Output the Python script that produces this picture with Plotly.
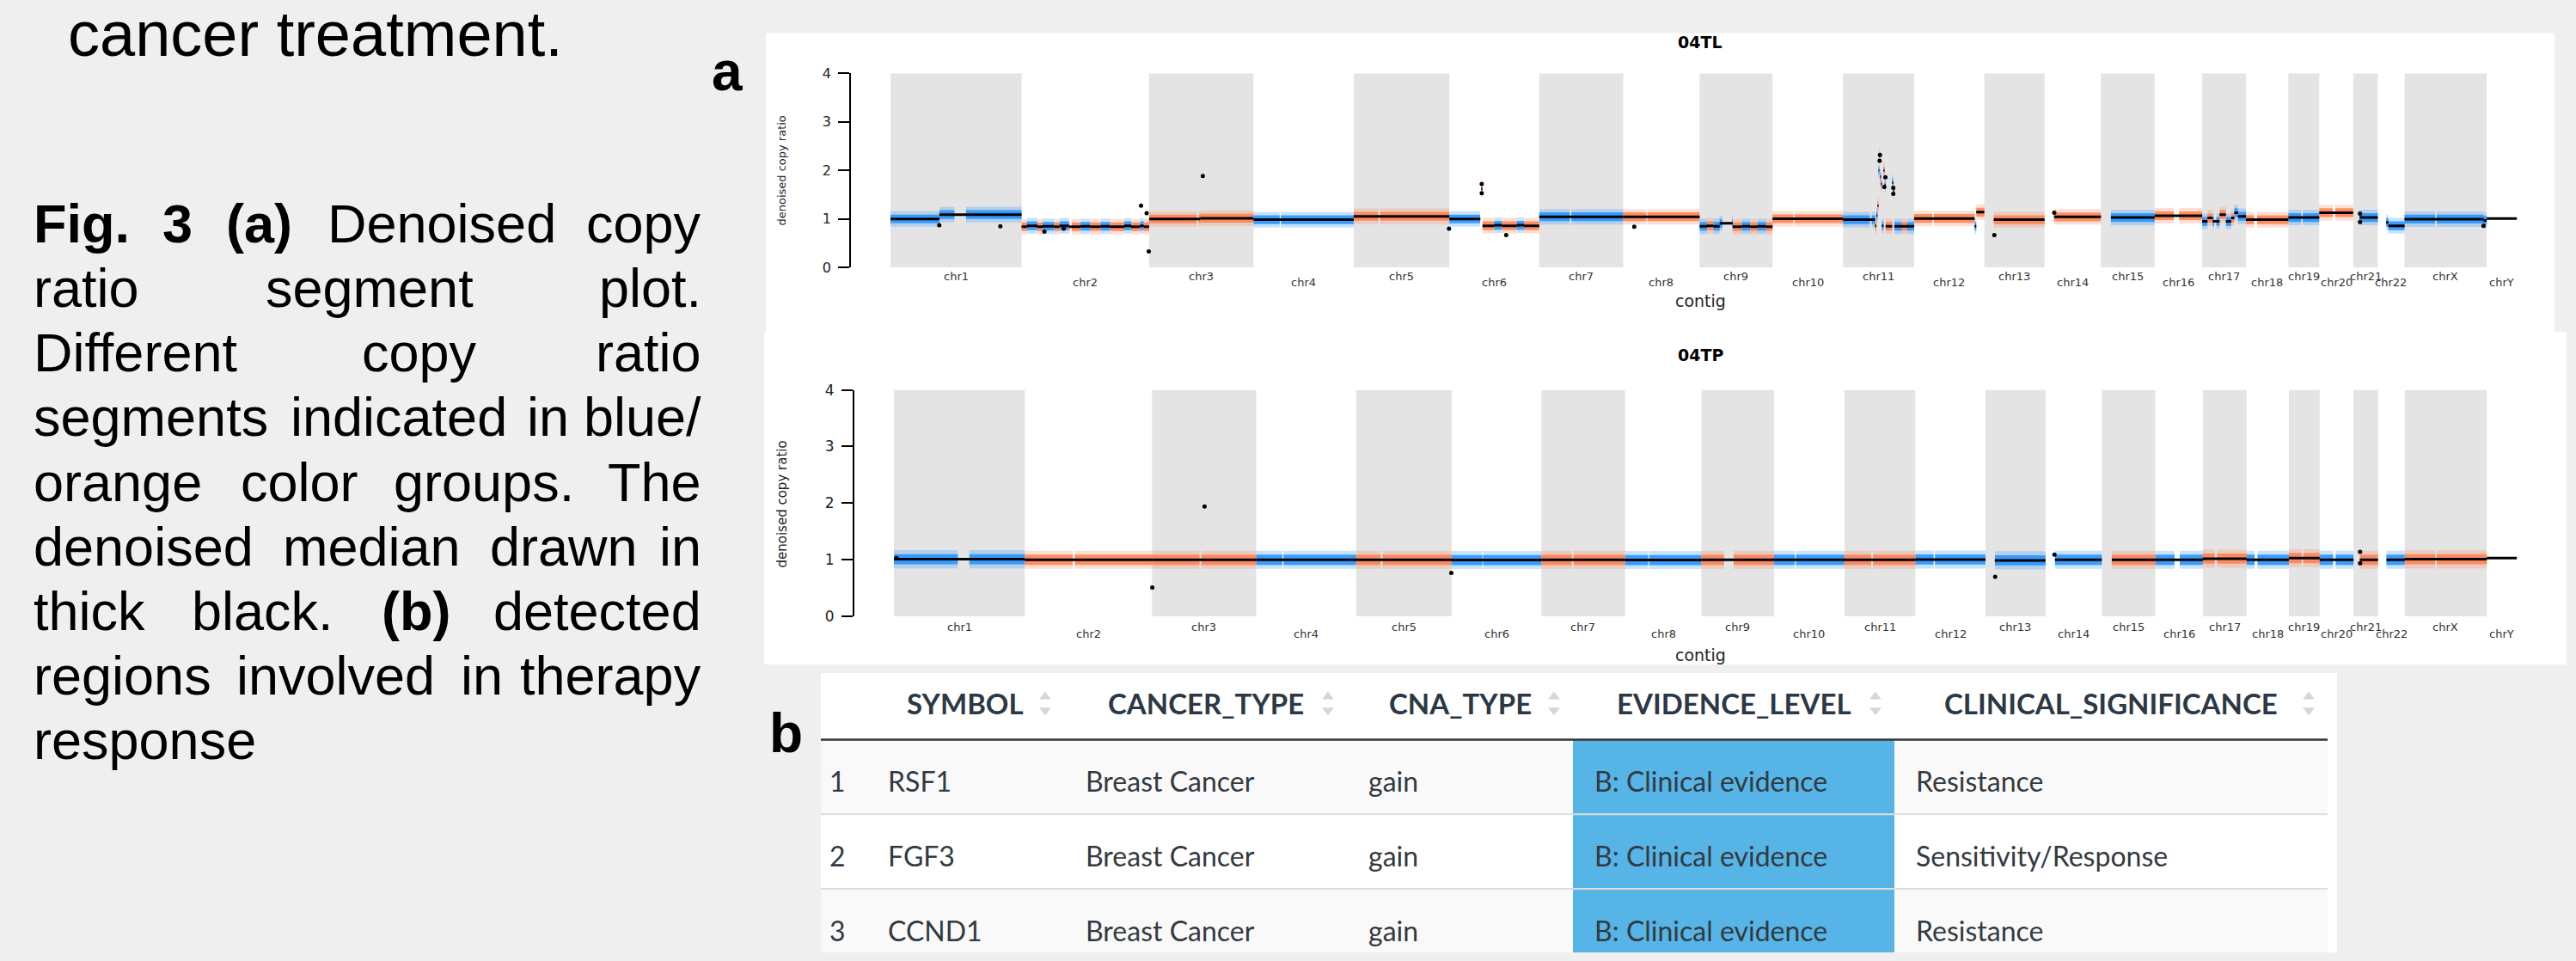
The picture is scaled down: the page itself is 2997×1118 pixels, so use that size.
import plotly.graph_objects as go

W, H = 2997, 1118

# ---------------------------------------------------------------- data
chrom_names = ["chr1", "chr2", "chr3", "chr4", "chr5", "chr6", "chr7", "chr8",
               "chr9", "chr10", "chr11", "chr12", "chr13", "chr14", "chr15",
               "chr16", "chr17", "chr18", "chr19", "chr20", "chr21", "chr22",
               "chrX", "chrY"]
chrom_len_mb = [248.96, 242.19, 198.30, 190.21, 181.54, 170.81, 159.35, 145.14,
                138.39, 133.80, 135.09, 133.28, 114.36, 107.04, 101.99, 90.34,
                83.26, 80.37, 58.62, 64.44, 46.71, 50.82, 156.04, 57.23]
shaded_chroms = ["chr1", "chr3", "chr5", "chr7", "chr9", "chr11", "chr13",
                 "chr15", "chr17", "chr19", "chr21", "chrX"]

# regions without copy-ratio data (centromeres / heterochromatin), Mb
gap_chrom = ["chr1", "chr2", "chr3", "chr4", "chr5", "chr6", "chr7", "chr8",
             "chr9", "chr10", "chr11", "chr12", "chr16", "chr17", "chr18",
             "chr19", "chr20", "chrX"]
gap_start = [121.5, 91.5, 90.5, 49.7, 46.5, 58.5, 58.1, 44.0, 43.0, 39.6,
             51.1, 34.7, 36.3, 22.7, 15.4, 24.4, 25.6, 58.1]
gap_end = [143.5, 95.0, 93.7, 51.8, 50.2, 59.9, 61.0, 45.9, 61.5, 41.6,
           54.5, 37.2, 46.4, 26.9, 20.9, 27.2, 30.4, 61.0]

# sample 04TL segments: (contig, start Mb, end Mb, denoised median, colour group)
tl_segments = [
    ("chr1", 0, 93, 1.00, "B"), ("chr1", 93, 248.96, 1.09, "B"),
    ("chr2", 0, 10, 0.84, "O"), ("chr2", 10, 30, 0.86, "B"), ("chr2", 30, 40, 0.84, "O"),
    ("chr2", 40, 62, 0.85, "B"), ("chr2", 62, 72, 0.84, "O"), ("chr2", 72, 90, 0.86, "B"),
    ("chr2", 90, 112, 0.84, "O"), ("chr2", 112, 130, 0.85, "B"), ("chr2", 130, 150, 0.84, "O"),
    ("chr2", 150, 168, 0.85, "B"), ("chr2", 168, 195, 0.84, "O"), ("chr2", 195, 208, 0.86, "B"),
    ("chr2", 208, 225, 0.84, "O"), ("chr2", 225, 232, 0.86, "B"), ("chr2", 232, 242.19, 0.84, "O"),
    ("chr3", 0, 97, 1.00, "O"), ("chr3", 97, 198.3, 1.015, "O"),
    ("chr4", 0, 190.21, 0.985, "B"),
    ("chr5", 0, 181.54, 1.055, "O"),
    ("chr6", 0, 59, 1.00, "B"), ("chr6", 60.5, 63, 1.62, "O"), ("chr6", 63, 85, 0.86, "O"),
    ("chr6", 85, 100, 0.87, "B"), ("chr6", 100, 128, 0.86, "O"), ("chr6", 128, 142, 0.87, "B"),
    ("chr6", 142, 170.81, 0.86, "O"),
    ("chr7", 0, 159.35, 1.045, "B"),
    ("chr8", 0, 145.14, 1.045, "O"),
    ("chr9", 0, 14, 0.85, "B"), ("chr9", 14, 26, 0.86, "O"), ("chr9", 26, 38, 0.85, "B"),
    ("chr9", 38, 63, 0.91, "B"), ("chr9", 63, 80, 0.84, "O"), ("chr9", 80, 96, 0.85, "B"),
    ("chr9", 96, 110, 0.84, "O"), ("chr9", 110, 126, 0.85, "B"), ("chr9", 126, 138.39, 0.84, "O"),
    ("chr10", 0, 133.8, 1.005, "O"),
    ("chr11", 0, 61, 0.985, "B"), ("chr11", 61, 63.5, 0.86, "O"), ("chr11", 63.5, 65.5, 1.07, "B"),
    ("chr11", 65.5, 67.5, 1.275, "O"), ("chr11", 67.5, 69, 2.0, "B"), ("chr11", 69, 70.5, 2.3, "O"),
    ("chr11", 70.5, 72, 1.87, "B"), ("chr11", 72, 74, 1.72, "O"), ("chr11", 74, 77, 0.86, "B"),
    ("chr11", 77, 79, 2.0, "O"), ("chr11", 79, 81, 1.7, "B"), ("chr11", 81, 93.5, 0.85, "O"),
    ("chr11", 93.5, 95.5, 1.75, "B"), ("chr11", 95.5, 97.5, 1.58, "O"), ("chr11", 97.5, 112, 0.85, "B"),
    ("chr11", 112, 122, 0.85, "O"), ("chr11", 122, 135.09, 0.85, "B"),
    ("chr12", 0, 115, 1.01, "O"), ("chr12", 115, 118, 0.85, "B"), ("chr12", 118, 133.28, 1.14, "O"),
    ("chr13", 18, 114.36, 0.985, "O"),
    ("chr14", 18, 107.04, 1.043, "O"),
    ("chr15", 19, 101.99, 1.03, "B"),
    ("chr16", 0, 90.34, 1.067, "O"),
    ("chr17", 0, 10, 0.95, "B"), ("chr17", 10, 20, 1.02, "O"), ("chr17", 20, 33, 0.95, "B"),
    ("chr17", 33, 45, 1.09, "O"), ("chr17", 45, 55, 0.95, "B"), ("chr17", 55, 61, 1.02, "O"),
    ("chr17", 61, 68, 1.13, "B"), ("chr17", 68, 83.26, 1.055, "B"),
    ("chr18", 0, 80.37, 0.985, "O"),
    ("chr19", 0, 58.62, 1.03, "B"),
    ("chr20", 0, 64.44, 1.13, "O"),
    ("chr21", 12, 46.71, 1.03, "B"),
    ("chr22", 16, 20, 0.93, "B"), ("chr22", 20, 50.82, 0.86, "B"),
    ("chrX", 0, 150, 0.997, "B"), ("chrX", 150, 156.04, 0.97, "B"),
    ("chrY", 0, 57.23, 1.01, "-"),
]
# single-bin segments of 04TL drawn as black dots: (contig, position Mb, ratio)
tl_points = [
    ("chr1", 92.7, 0.87), ("chr1", 208.6, 0.85),
    ("chr2", 43.3, 0.74), ("chr2", 80, 0.80), ("chr2", 226.8, 1.275),
    ("chr2", 237.5, 1.12), ("chr2", 241.5, 0.33),
    ("chr3", 102, 1.884), ("chr5", 181, 0.80),
    ("chr6", 61.5, 1.72), ("chr6", 61.5, 1.53), ("chr6", 108, 0.667),
    ("chr8", 21, 0.84),
    ("chr11", 69.6, 2.2), ("chr11", 70.2, 2.32), ("chr11", 78.4, 1.66),
    ("chr11", 80.5, 1.86), ("chr11", 95.5, 1.52), ("chr11", 95.5, 1.64),
    ("chr13", 19, 0.667), ("chr14", 18.5, 1.13),
    ("chr21", 13, 0.94), ("chr21", 13, 1.11), ("chrX", 150, 0.86),
]

# sample 04TP
tp_segments = [
    ("chr1", 0, 248.96, 1.01, "B"), ("chr2", 0, 242.19, 1.0, "O"),
    ("chr3", 0, 198.3, 1.0, "O"), ("chr4", 0, 190.21, 1.0, "B"),
    ("chr5", 0, 181.54, 1.0, "O"), ("chr6", 0, 170.81, 0.995, "B"),
    ("chr7", 0, 159.35, 1.0, "O"), ("chr8", 0, 145.14, 0.995, "B"),
    ("chr9", 0, 138.39, 1.0, "O"), ("chr10", 0, 133.8, 1.0, "B"),
    ("chr11", 0, 135.09, 1.0, "O"), ("chr12", 0, 133.28, 1.005, "B"),
    ("chr13", 18, 114.36, 0.99, "B"), ("chr14", 18, 107.04, 1.0, "B"),
    ("chr15", 19, 101.99, 1.0, "O"), ("chr16", 0, 90.34, 1.0, "B"),
    ("chr17", 0, 83.26, 1.02, "O"), ("chr18", 0, 80.37, 1.0, "B"),
    ("chr19", 0, 58.62, 1.03, "O"), ("chr20", 0, 64.44, 1.0, "B"),
    ("chr21", 12, 46.71, 1.0, "O"), ("chr22", 16, 50.82, 1.0, "B"),
    ("chrX", 0, 156.04, 1.01, "O"), ("chrY", 0, 57.23, 1.03, "-"),
]
tp_points = [
    ("chr1", 5, 1.03), ("chr3", 100, 1.94), ("chr3", 0.5, 0.51),
    ("chr5", 181, 0.77), ("chr13", 18.5, 0.70), ("chr14", 17, 1.09),
    ("chr21", 12.5, 1.14), ("chr21", 12.5, 0.94),
]

y_ticks = [0, 1, 2, 3, 4]

# table
table_headers = ["SYMBOL", "CANCER_TYPE", "CNA_TYPE", "EVIDENCE_LEVEL", "CLINICAL_SIGNIFICANCE"]
row_ids = ["1", "2", "3"]
col_symbol = ["RSF1", "FGF3", "CCND1"]
col_cancer_type = ["Breast Cancer", "Breast Cancer", "Breast Cancer"]
col_cna_type = ["gain", "gain", "gain"]
col_evidence = ["B: Clinical evidence", "B: Clinical evidence", "B: Clinical evidence"]
col_significance = ["Resistance", "Sensitivity/Response", "Resistance"]

# caption (word, left px, bold) per justified line
caption_lines = [
    [("Fig.", 37, True), ("3", 187, True), ("(a)", 261, True), ("Denoised", 379, False), ("copy", 686, False)],
    [("ratio", 37, False), ("segment", 307, False), ("plot.", 700, False)],
    [("Different", 37, False), ("copy", 419, False), ("ratio", 697, False)],
    [("segments", 37, False), ("indicated", 336, False), ("in", 611, False), ("blue/", 683, False)],
    [("orange", 37, False), ("color", 278, False), ("groups.", 456, False), ("The", 703, False)],
    [("denoised", 37, False), ("median", 327, False), ("drawn", 568, False), ("in", 772, False)],
    [("thick", 37, False), ("black.", 221, False), ("(b)", 442, True), ("detected", 577, False)],
    [("regions", 37, False), ("involved", 273, False), ("in", 534, False), ("therapy", 606, False)],
    [("response", 37, False)],
]

# ---------------------------------------------------------------- helpers
BLUE, ORANGE = "rgba(30,144,255,0.85)", "rgba(255,127,80,0.85)"
BLUE_T, ORANGE_T = "rgba(30,144,255,0.25)", "rgba(255,127,80,0.25)"
CHART_FONT = "DejaVu Sans"

chrom_start = {}
_c = 0.0
for n, l in zip(chrom_names, chrom_len_mb):
    chrom_start[n] = _c
    _c += l
chrom_len = dict(zip(chrom_names, chrom_len_mb))


def fx(p):
    return p / W


def fy(p):
    return 1 - p / H


def pieces(chrom, a, b):
    out = [(a, b)]
    for gc, gs, ge in zip(gap_chrom, gap_start, gap_end):
        if gc != chrom:
            continue
        nxt = []
        for s, e in out:
            if ge <= s or gs >= e:
                nxt.append((s, e))
            else:
                if gs > s:
                    nxt.append((s, gs))
                if ge < e:
                    nxt.append((ge, e))
        out = nxt
    return out


def sample_traces(segments, points, xa, ya, core, outer, lw):
    traces = []
    for grp, col, tcol in (("B", BLUE, BLUE_T), ("O", ORANGE, ORANGE_T)):
        for half, fc in ((outer, tcol), (core, col)):
            xs, ys = [], []
            for c, a, b, v, g in segments:
                if g != grp:
                    continue
                off = chrom_start[c]
                for s, e in pieces(c, a, b):
                    x0, x1 = off + s, off + e
                    xs += [x0, x1, x1, x0, x0, None]
                    ys += [v - half, v - half, v + half, v + half, v - half, None]
            traces.append(go.Scatter(x=xs, y=ys, mode="lines", fill="toself",
                                     fillcolor=fc, line=dict(width=0),
                                     hoverinfo="skip", showlegend=False,
                                     xaxis=xa, yaxis=ya))
    lx, ly = [], []
    for c, a, b, v, g in segments:
        off = chrom_start[c]
        lx += [off + a, off + b, None]
        ly += [v, v, None]
    traces.append(go.Scatter(x=lx, y=ly, mode="lines", line=dict(color="black", width=lw),
                             hoverinfo="skip", showlegend=False, xaxis=xa, yaxis=ya))
    traces.append(go.Scatter(x=[chrom_start[c] + p for c, p, v in points],
                             y=[v for c, p, v in points], mode="markers",
                             marker=dict(color="black", size=5),
                             hoverinfo="skip", showlegend=False, xaxis=xa, yaxis=ya))
    return traces


def chrom_label_annotations(xa, y_odd_px, y_even_px, size):
    # x in genome (data) coordinates, y in paper coordinates below the panel
    out = []
    for i, n in enumerate(chrom_names):
        out.append(dict(text=n, x=chrom_start[n] + chrom_len[n] / 2,
                        y=fy(y_odd_px if i % 2 == 0 else y_even_px), xref=xa, yref="paper",
                        showarrow=False, xanchor="center", yanchor="middle",
                        font=dict(family=CHART_FONT, size=size, color="#333333")))
    return out


fig = go.Figure()
for t in sample_traces(tl_segments, tl_points, "x", "y", 0.09, 0.16, 3):
    fig.add_trace(t)
for t in sample_traces(tp_segments, tp_points, "x2", "y2", 0.09, 0.16, 3):
    fig.add_trace(t)

shapes = []
annotations = []
annotations += chrom_label_annotations("x", 317, 324.5, 13)
annotations += chrom_label_annotations("x2", 733, 741, 13)

# white panels
shapes.append(dict(type="rect", xref="paper", yref="paper", x0=fx(891), x1=fx(2972),
                   y0=fy(383), y1=fy(29), fillcolor="white", line=dict(width=0), layer="below"))
shapes.append(dict(type="rect", xref="paper", yref="paper", x0=fx(889), x1=fx(2986),
                   y0=fy(777), y1=fy(383), fillcolor="white", line=dict(width=0), layer="below"))
shapes.append(dict(type="rect", xref="paper", yref="paper", x0=fx(955), x1=fx(2719),
                   y0=0, y1=fy(787), fillcolor="white", line=dict(width=0), layer="below"))

# alternating chromosome shading
for xa, ya in (("x", "y"), ("x2", "y2")):
    for n in shaded_chroms:
        shapes.append(dict(type="rect", xref=xa, yref=ya, x0=chrom_start[n],
                           x1=chrom_start[n] + chrom_len[n], y0=0, y1=4,
                           fillcolor="#e4e4e4", line=dict(width=0), layer="below"))

# chart titles / axis titles
for title, ty, cy, yt_y, yt_size in (("04TL", 40, 346, 192, 13), ("04TP", 410, 766, 587, 15)):
    annotations.append(dict(text="<b>" + title + "</b>", x=fx(1978), y=fy(ty), xref="paper", yref="paper",
                            showarrow=False, font=dict(family=CHART_FONT, size=19, color="black"),
                            xanchor="center", yanchor="middle"))
    annotations.append(dict(text="contig", x=fx(1978), y=fy(cy), xref="paper", yref="paper",
                            showarrow=False, font=dict(family=CHART_FONT, size=19, color="#222222"),
                            xanchor="center", yanchor="middle"))
    annotations.append(dict(text="denoised copy ratio", x=fx(910), y=fy(yt_y), xref="paper",
                            yref="paper", showarrow=False, textangle=-90,
                            font=dict(family=CHART_FONT, size=yt_size, color="#222222"),
                            xanchor="center", yanchor="middle"))

# ---------------------------------------------------------------- table (x3/y3 in px units)
col_edges = [0, 53, 283, 612, 875, 1249, 1753]
header_h = 79
row_h = 88.3
pad = 23
for i in range(len(row_ids)):
    y0 = header_h + row_h * i
    if i % 2 == 0:
        shapes.append(dict(type="rect", xref="x3", yref="y3", x0=0, x1=col_edges[-1],
                           y0=y0, y1=y0 + row_h, fillcolor="#f9f9f9", line=dict(width=0), layer="below"))
    shapes.append(dict(type="rect", xref="x3", yref="y3", x0=col_edges[4], x1=col_edges[5],
                       y0=y0, y1=y0 + row_h, fillcolor="#56b4e6", line=dict(width=0), layer="below"))
for i in range(len(row_ids)):
    yl = header_h + row_h * (i + 1)
    shapes.append(dict(type="line", xref="x3", yref="y3", x0=0, x1=col_edges[-1], y0=yl, y1=yl,
                       line=dict(color="#dddddd", width=2), layer="below"))
shapes.append(dict(type="line", xref="x3", yref="y3", x0=0, x1=col_edges[-1], y0=header_h, y1=header_h,
                   line=dict(color="#333333", width=2.5), layer="below"))

TFONT = "Lato"
head_y = 36
for i, htxt in enumerate(table_headers):
    annotations.append(dict(text=htxt, x=(col_edges[i + 1] + col_edges[i + 2]) / 2, y=head_y,
                            xref="x3", yref="y3", showarrow=False, xanchor="center", yanchor="middle",
                            font=dict(family=TFONT, size=33, color="#2c3945", weight="bold")))
arrow_x = [col_edges[i + 2] - 22 for i in range(len(table_headers))]
fig.add_trace(go.Scatter(x=arrow_x, y=[head_y - 8] * len(arrow_x), mode="markers",
                         marker=dict(symbol="triangle-up", size=12, color="#d6d6d6"),
                         hoverinfo="skip", showlegend=False, xaxis="x3", yaxis="y3"))
fig.add_trace(go.Scatter(x=arrow_x, y=[head_y + 8] * len(arrow_x), mode="markers",
                         marker=dict(symbol="triangle-down", size=12, color="#d6d6d6"),
                         hoverinfo="skip", showlegend=False, xaxis="x3", yaxis="y3"))

row_centers = [header_h + row_h * (i + 0.5) + 5 for i in range(len(row_ids))]
body_cols = [row_ids, col_symbol, col_cancer_type, col_cna_type, col_evidence, col_significance]
body_x = [8] + [col_edges[i] + pad for i in range(1, 6)]
for bx, vals in zip(body_x, body_cols):
    for yc, v in zip(row_centers, vals):
        annotations.append(dict(text=v, x=bx, y=yc, xref="x3", yref="y3", showarrow=False,
                                xanchor="left", yanchor="middle",
                                font=dict(family=TFONT, size=32, color="#333a40")))

# ---------------------------------------------------------------- left caption text
CAP = "Liberation Sans"
annotations.append(dict(text="cancer treatment.", x=fx(77), y=fy(56 - 0.346 * 74), xref="paper",
                        yref="paper", showarrow=False, xanchor="left", yanchor="middle",
                        font=dict(family=CAP, size=74, color="black")))
for li, words in enumerate(caption_lines):
    base = 276 + 76.6 * li
    yc = fy(base - 0.346 * 63)
    justified = len(words) > 1
    for wi, (w, xl, bold) in enumerate(words):
        last = justified and wi == len(words) - 1
        annotations.append(dict(text=w, x=fx(818) if last else fx(xl), y=yc, xref="paper", yref="paper",
                                showarrow=False, xanchor="right" if last else "left", yanchor="middle",
                                font=dict(family=CAP, size=63, color="black",
                                          weight="bold" if bold else "normal")))
annotations.append(dict(text="a", x=fx(826), y=fy(96 - 0.346 * 64), xref="paper", yref="paper",
                        showarrow=False, xanchor="left", yanchor="middle",
                        font=dict(family=CAP, size=64, color="black", weight="bold")))
annotations.append(dict(text="b", x=fx(893), y=fy(881 - 0.346 * 64), xref="paper", yref="paper",
                        showarrow=False, xanchor="left", yanchor="middle",
                        font=dict(family=CAP, size=64, color="black", weight="bold")))

# ---------------------------------------------------------------- axes
yax = dict(range=[0, 4], tickvals=y_ticks, showline=True, linecolor="black", linewidth=1.5,
           ticks="outside", ticklen=13, tickwidth=1.5, tickcolor="black", ticklabelstandoff=5,
           showgrid=False, zeroline=False, fixedrange=True)
fig.update_layout(
    width=W, height=H, margin=dict(l=0, r=0, t=0, b=0),
    paper_bgcolor="#efefef", plot_bgcolor="rgba(0,0,0,0)",
    showlegend=False,
    xaxis=dict(domain=[fx(990), fx(2950)], range=[(990 - 1036) / 0.6127, (2950 - 1036) / 0.6127],
               visible=False, fixedrange=True),
    yaxis=dict(domain=[fy(306.7), fy(76.7)], anchor="x",
               tickfont=dict(family=CHART_FONT, size=16, color="#222222"), **yax),
    xaxis2=dict(domain=[fx(993.7), fx(2950)], range=[(993.7 - 1040) / 0.6114, (2950 - 1040) / 0.6114],
                visible=False, fixedrange=True, anchor="y2"),
    yaxis2=dict(domain=[fy(720), fy(451.7)], anchor="x2",
                tickfont=dict(family=CHART_FONT, size=17, color="#222222"), **yax),
    xaxis3=dict(domain=[fx(955), fx(2719)], range=[0, 1764], visible=False, fixedrange=True, anchor="y3"),
    yaxis3=dict(domain=[0, fy(787)], range=[331, 0], visible=False, fixedrange=True, anchor="x3"),
    shapes=shapes,
    annotations=annotations,
)

fig.write_html("out.html", config={"displayModeBar": False},
               post_script="document.body.style.margin='0px';document.body.style.background='#efefef';")
